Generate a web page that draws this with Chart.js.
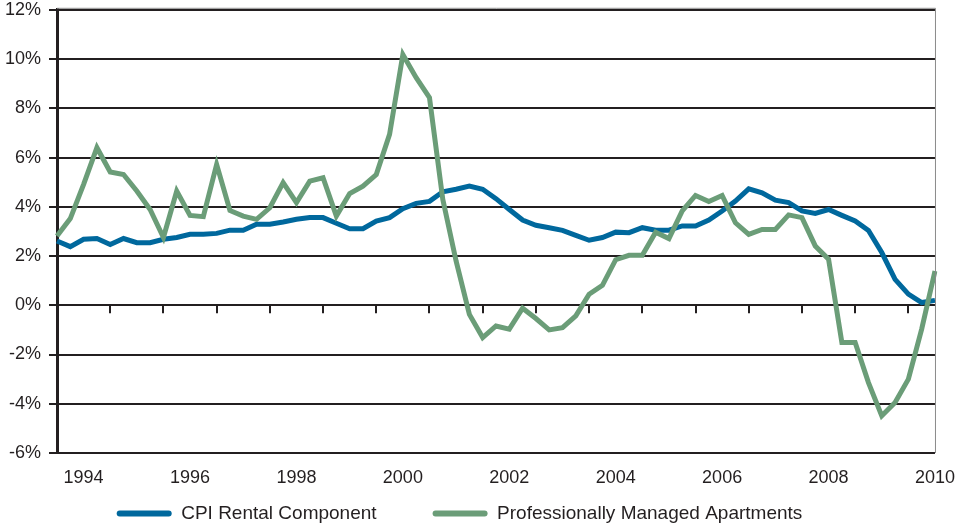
<!DOCTYPE html>
<html lang="en">
<head>
<meta charset="UTF-8" />
<title>CPI Rental Component vs Professionally Managed Apartments</title>
<style>
  body { margin: 0; background: #fff; }
  #wrap { width: 969px; height: 525px; }
</style>
</head>
<body>
<div id="wrap"><canvas id="chart" width="969" height="525"></canvas></div>
<script src="https://cdn.jsdelivr.net/npm/chart.js"></script>
<script>
  // quarterly, 1993 Q3 .. 2010 Q1
  const firstYear = 1993;
  const firstQuarter = 3;
  const quarterCount = 67;
  const yearLabels = ['1994', '1996', '1998', '2000', '2002', '2004', '2006', '2008', '2010'];

  const cpiRental = [
    2.61, 2.38, 2.68, 2.71, 2.47, 2.71, 2.54, 2.54, 2.68, 2.75,
    2.88, 2.88, 2.92, 3.05, 3.05, 3.29, 3.29, 3.38, 3.49, 3.56,
    3.56, 3.33, 3.11, 3.11, 3.42, 3.56, 3.92, 4.14, 4.22, 4.61,
    4.71, 4.84, 4.71, 4.33, 3.89, 3.46, 3.25, 3.15, 3.04, 2.84,
    2.64, 2.75, 2.97, 2.95, 3.15, 3.05, 3.05, 3.22, 3.22, 3.46,
    3.83, 4.23, 4.73, 4.57, 4.27, 4.17, 3.83, 3.73, 3.89, 3.65,
    3.42, 3.04, 2.14, 1.05, 0.45, 0.11, 0.20
  ];
  const managedApts = [
    2.81, 3.52, 4.91, 6.40, 5.41, 5.31, 4.64, 3.89, 2.75, 4.64,
    3.65, 3.60, 5.72, 3.85, 3.62, 3.49, 3.96, 4.98, 4.17, 5.04,
    5.18, 3.62, 4.54, 4.84, 5.31, 6.94, 10.18, 9.24, 8.43, 4.30,
    1.80, -0.37, -1.31, -0.84, -0.97, -0.12, -0.54, -1.00, -0.91, -0.43,
    0.45, 0.81, 1.85, 2.03, 2.03, 2.97, 2.71, 3.83, 4.46, 4.21,
    4.46, 3.35, 2.88, 3.08, 3.08, 3.67, 3.56, 2.41, 1.87, -1.51,
    -1.51, -3.14, -4.49, -3.95, -3.00, -0.97, 1.39
  ];

  const quarters = [];
  for (let i = 0; i < quarterCount; i++) {
    const q = firstQuarter - 1 + i;
    quarters.push((firstYear + Math.floor(q / 4)) + ' Q' + (q % 4 + 1));
  }

  const ink = '#231f20';
  const font = "'Liberation Sans', Arial, sans-serif";

  // small tick marks hanging under the 0% line, one per year
  const zeroTicks = {
    id: 'zeroTicks',
    afterLayout(chart) {
      // legend padding is wide for the gap between items; pull the row up under the year labels
      const lg = chart.legend;
      if (lg) { lg.top -= 45; lg.bottom -= 45; }
    },
    afterDatasetsDraw(chart) {
      const { ctx, chartArea, scales: { x, y } } = chart;
      const y0 = y.getPixelForValue(0);
      ctx.save();
      ctx.strokeStyle = ink;
      ctx.lineWidth = 2;
      quarters.forEach((q, i) => {
        if (i % 4 !== 0 || i === 0) return;
        const px = Math.round(x.getPixelForValue(i));
        ctx.beginPath();
        ctx.moveTo(px, y0);
        ctx.lineTo(px, y0 + 8);
        ctx.stroke();
      });
      // thin frame on top / right
      ctx.strokeStyle = '#8a8a8a';
      ctx.lineWidth = 1;
      ctx.beginPath();
      ctx.moveTo(chartArea.left, chartArea.top - 1.5);
      ctx.lineTo(chartArea.right + 0.5, chartArea.top - 1.5);
      ctx.lineTo(chartArea.right + 0.5, chartArea.bottom);
      ctx.stroke();
      ctx.restore();
    }
  };

  new Chart(document.getElementById('chart'), {
    type: 'line',
    data: {
      labels: quarters,
      datasets: [
        {
          label: 'CPI Rental Component',
          data: cpiRental,
          borderColor: '#00689d',
          backgroundColor: '#00689d',
          borderWidth: 5,
          pointRadius: 0,
          tension: 0,
          order: 1
        },
        {
          label: 'Professionally Managed Apartments',
          data: managedApts,
          borderColor: '#6b9d78',
          backgroundColor: '#6b9d78',
          borderWidth: 5,
          pointRadius: 0,
          tension: 0,
          order: 0
        }
      ]
    },
    options: {
      responsive: false,
      animation: false,
      layout: { padding: { top: 4, right: 26, left: -24, bottom: -53 } },
      plugins: {
        tooltip: { enabled: false },
        legend: {
          position: 'bottom',
          labels: {
            boxWidth: 55,
            boxHeight: 6,
            padding: 56,
            color: ink,
            font: { family: font, size: 19 },
            generateLabels(chart) {
              return Chart.defaults.plugins.legend.labels.generateLabels(chart)
                .sort((a, b) => a.datasetIndex - b.datasetIndex)
                .map(l => ({ ...l, fillStyle: l.strokeStyle, lineWidth: 0, borderRadius: 3 }));
            }
          }
        }
      },
      scales: {
        x: {
          type: 'category',
          offset: false,
          grid: { display: false, drawTicks: false },
          border: { display: false },
          ticks: {
            autoSkip: false,
            maxRotation: 0,
            padding: 14,
            color: ink,
            font: { family: font, size: 18 },
            callback(v, i) {
              const label = quarters[i];
              const yr = label.slice(0, 4);
              return label.endsWith('Q1') && yearLabels.includes(yr) ? yr : '';
            }
          },
          afterFit(scale) { scale.height = 40; }
        },
        y: {
          min: -6,
          max: 12,
          grid: { color: ink, lineWidth: 2, tickLength: 8, drawTicks: true },
          border: { color: ink, width: 3 },
          ticks: {
            stepSize: 2,
            padding: 8,
            color: ink,
            // tiny lineHeight so the top label does not push the plot down
            font: { family: font, size: 18, lineHeight: 0.2 },
            callback: v => v + '%'
          },
          afterFit(scale) { scale.width = 81; }
        }
      }
    },
    plugins: [zeroTicks]
  });
</script>
</body>
</html>
